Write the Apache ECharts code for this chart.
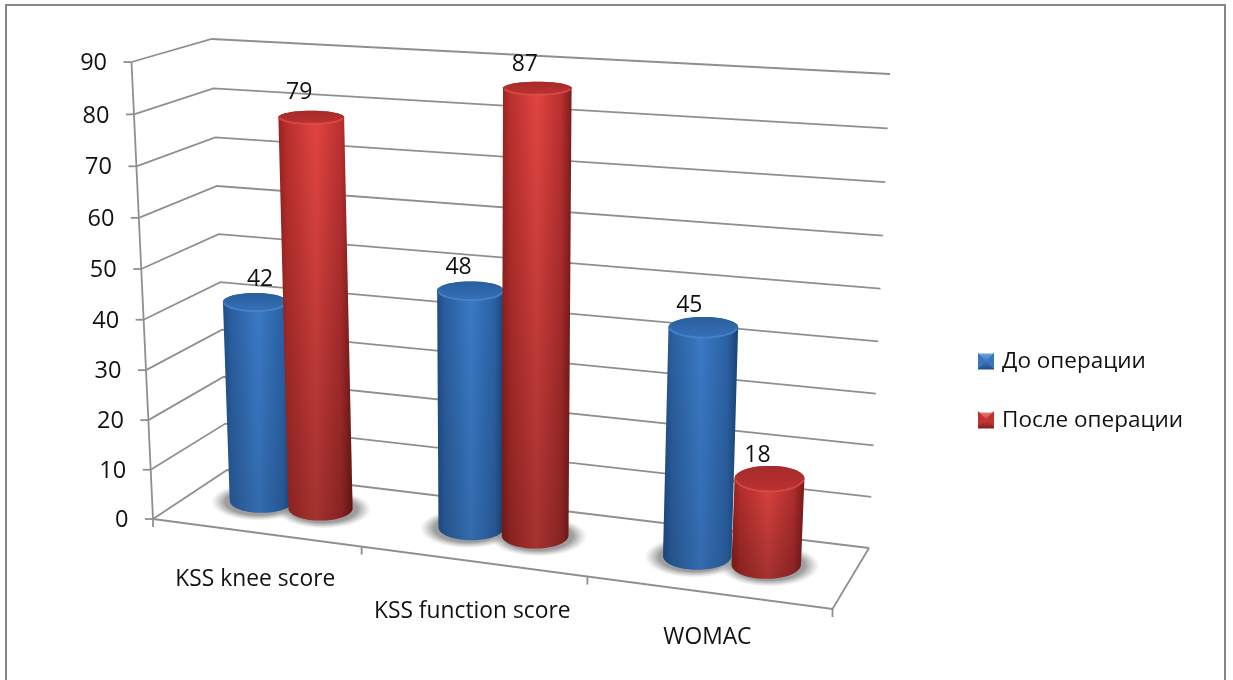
<!DOCTYPE html>
<html>
<head>
<meta charset="utf-8">
<style>html,body{margin:0;padding:0;background:#fff}#chart{width:1233px;height:680px}</style>
<script src="https://cdn.jsdelivr.net/npm/echarts@6/dist/echarts.min.js"></script>
</head>
<body>
<div id="chart"></div>
<script>
// Scores before and after surgery
const categories = ['KSS knee score', 'KSS function score', 'WOMAC'];
const seriesNames = ['До операции', 'После операции'];
const beforeSurgery = [42, 48, 45];
const afterSurgery = [79, 87, 18];
const valueTicks = [0, 10, 20, 30, 40, 50, 60, 70, 80, 90];

const FONT = '"Open Sans", sans-serif';
const LINE = '#8f8f8f';
const TEXT = '#111';

// Corners of the 3D plot box on screen: [front-left, front-right, back-right, back-left]
const FLOOR = [[153, 519], [832.5, 609], [869, 548], [227, 470]];
const CEILING = [[131.5, 62], [856, 103], [890, 74], [211.7, 39]];
const HEIGHT_PERSPECTIVE = 1.035;
const BAR_DEPTH = 0.53, BAR_OFFSET = 0.0485, RADIUS_S = 0.05, RADIUS_D = 0.24;
const WIDTH_BLEND = 16.7;
const CATEGORY_SHIFT = [-0.0035, -0.001, 0];

// Hand placement of the text relative to its mark
const LABEL_DX = [[5, -12, -14], [-12, -12.5, -12]];
const LABEL_DY = [[-13, -14, -11], [-18, -17, -10]];
const CATEGORY_DY = [47, 50, 45];

// Unit square to quadrilateral homography
function squareToQuad(q) {
  const [[x0, y0], [x1, y1], [x2, y2], [x3, y3]] = q;
  const dx1 = x1 - x2, dx2 = x3 - x2, dx3 = x0 - x1 + x2 - x3;
  const dy1 = y1 - y2, dy2 = y3 - y2, dy3 = y0 - y1 + y2 - y3;
  const den = dx1 * dy2 - dx2 * dy1;
  const g = (dx3 * dy2 - dx2 * dy3) / den, h = (dx1 * dy3 - dx3 * dy1) / den;
  const a = x1 - x0 + g * x1, b = x3 - x0 + h * x3, d = y1 - y0 + g * y1, e = y3 - y0 + h * y3;
  return (s, r) => {
    const w = g * s + h * r + 1;
    return [(a * s + b * r + x0) / w, (d * s + e * r + y0) / w];
  };
}
const floorAt = squareToQuad(FLOOR), ceilingAt = squareToQuad(CEILING);

// s: along categories, r: depth, t: fraction of the value axis
function project(s, r, t) {
  const f = t / (t + HEIGHT_PERSPECTIVE * (1 - t));
  const a = floorAt(s, r), b = ceilingAt(s, r);
  return [a[0] + (b[0] - a[0]) * f, a[1] + (b[1] - a[1]) * f];
}

// Converts a position on the hidden cartesian axes into box coordinates
function toBox(api, cat, value) {
  const c = api.coord([cat, value]);
  return { s: c[0] / api.getWidth(), t: 1 - c[1] / api.getHeight() };
}

const line = (pts, z2, width) => ({
  type: 'polyline', z2: z2 || 0, silent: true,
  shape: { points: pts },
  style: { stroke: LINE, lineWidth: width || 1.8, fill: null }
});
const label = (text, x, y, align, size) => ({
  type: 'text', z2: 5, silent: true,
  style: { text, x, y, align: align || 'center', verticalAlign: 'middle', fill: TEXT, font: (size || 23) + 'px ' + FONT }
});

function renderWalls(params, api) {
  const v = api.value(1);
  const { t } = toBox(api, 0, v);
  const front = project(0, 0, t), back = project(0, 1, t), right = project(1, 1, t);
  const kids = [
    line([front, back, right]),
    line([[front[0] - 8, front[1]], front]),
    label(String(v), front[0] - 24.5, front[1] + 1.5, 'right', 23.5)
  ];
  if (v === valueTicks[0]) {
    kids.push(line([project(0, 0, 0), project(1, 0, 0), project(1, 1, 0)]));
    kids.push(line([project(0, 0, 0), project(0, 0, 1)]));
  }
  return { type: 'group', children: kids };
}

function renderCategories(params, api) {
  const i = api.value(0);
  const { s } = toBox(api, i, 0);
  const half = api.size([1, 0])[0] / api.getWidth() / 2;
  const ticks = [s - half];
  if (i === categories.length - 1) ticks.push(s + half);
  const kids = ticks.map(x => {
    const p = project(x, 0, 0);
    return line([p, [p[0], p[1] + 8]]);
  });
  const at = project(s, 0, 0);
  kids.push(label(categories[i], at[0], at[1] + CATEGORY_DY[i], 'center', 22.8));
  return { type: 'group', children: kids };
}

function ellipsePoints(c, a, b, from, to, n) {
  const out = [];
  for (let i = 0; i <= n; i++) {
    const ang = from + (to - from) * i / n;
    out.push([c[0] + a * Math.cos(ang), c[1] + b * Math.sin(ang)]);
  }
  return out;
}

// Screen-space footprint of a cylinder at height t
function footprint(s, t) {
  const c = project(s, BAR_DEPTH, t);
  const raw = Math.abs(project(s + RADIUS_S, BAR_DEPTH, t)[0] - project(s - RADIUS_S, BAR_DEPTH, t)[0]) / 2;
  const b = Math.abs(project(s, BAR_DEPTH - RADIUS_D, t)[1] - project(s, BAR_DEPTH + RADIUS_D, t)[1]) / 2;
  return { c, a: raw * 0.5 + WIDTH_BLEND, b };
}

const grad = (x2, y2, stops) => new echarts.graphic.LinearGradient(0, 0, x2, y2,
  stops.map(([offset, color]) => ({ offset, color })));

const PALETTE = [
  {
    body: [[0, '#1f4c88'], [0.12, '#2a5f9f'], [0.5, '#3a7ac6'], [0.85, '#2b62a6'], [1, '#1a4276']],
    cap: [[0, '#2a5f9e'], [1, '#3570b6']], rim: '#4a8ad2', shade: 0.12
  },
  {
    body: [[0, '#96231f'], [0.12, '#bb2f2d'], [0.5, '#e24541'], [0.85, '#bb3030'], [1, '#7f1c1c']],
    cap: [[0, '#a62a2a'], [1, '#bb3232']], rim: '#e0504c', shade: 0.28
  }
];

function makeBarRenderer(seriesIndex) {
  const sign = seriesIndex === 0 ? -1 : 1, colors = PALETTE[seriesIndex];
  return function (params, api) {
    const i = api.value(0), v = api.value(1);
    const { s, t } = toBox(api, i, v);
    const x = s + CATEGORY_SHIFT[i] + sign * BAR_OFFSET;
    const base = footprint(x, 0), top = footprint(x, t);
    // The rounded rim sits a little below the nominal top of the column
    top.c = [top.c[0], top.c[1] + 9 - 6 * t];
    const outline = ellipsePoints(base.c, base.a, base.b, 0, Math.PI, 24)
      .concat(ellipsePoints(top.c, top.a, top.b, Math.PI, 2 * Math.PI, 24));
    const cap = ellipsePoints(top.c, top.a, top.b, 0, 2 * Math.PI, 48);
    const rim = ellipsePoints(top.c, top.a - 1, top.b, 0.12, Math.PI - 0.12, 24);
    return {
      type: 'group',
      children: [
        { type: 'polygon', silent: true, shape: { points: outline }, style: { fill: grad(1, 0, colors.body) } },
        { type: 'polygon', silent: true, shape: { points: outline },
          style: { fill: grad(0, 1, [[0, 'rgba(0,0,0,0)'], [1, 'rgba(0,0,0,' + colors.shade + ')']]) } },
        { type: 'polygon', silent: true, shape: { points: cap }, style: { fill: grad(0, 1, colors.cap) } },
        { type: 'polyline', silent: true, shape: { points: rim },
          style: { stroke: colors.rim, lineWidth: 2, fill: null, opacity: 0.7 } },
        label(String(v), top.c[0] + LABEL_DX[seriesIndex][i], top.c[1] - top.b + LABEL_DY[seriesIndex][i])
      ]
    };
  };
}

function makeShadowRenderer(seriesIndex) {
  const sign = seriesIndex === 0 ? -1 : 1;
  return function (params, api) {
    const i = api.value(0);
    const { s } = toBox(api, i, 0);
    const base = footprint(s + CATEGORY_SHIFT[i] + sign * BAR_OFFSET, 0);
    const rx = base.a + 16;
    return {
      type: 'circle', silent: true,
      x: base.c[0] + sign * 3, y: base.c[1] + 1, scaleX: 1, scaleY: (base.b + 7) / rx,
      shape: { cx: 0, cy: 0, r: rx },
      style: {
        fill: new echarts.graphic.RadialGradient(0.5, 0.5, 0.5, [
          { offset: 0, color: 'rgba(125,125,125,0.8)' },
          { offset: 0.7, color: 'rgba(125,125,125,0.75)' },
          { offset: 0.85, color: 'rgba(150,150,150,0.4)' },
          { offset: 1, color: 'rgba(190,190,190,0)' }
        ])
      }
    };
  };
}

const asPoints = vals => vals.map((v, i) => [i, v]);
const customSeries = (name, z, data, renderItem) => ({
  name, type: 'custom', coordinateSystem: 'cartesian2d', z, clip: false, silent: true,
  encode: { x: 0, y: 1 }, data, renderItem, animation: false
});
const swatch = (top, bottom) => grad(0, 1, [[0, top], [0.5, bottom[0]], [1, bottom[1]]]);
const bevel = (x, y, color) => [
  { type: 'polygon', z: 30, silent: true, shape: { points: [[x, y], [x + 8, y + 8], [x, y + 16]] }, style: { fill: color } },
  { type: 'polygon', z: 30, silent: true, shape: { points: [[x + 16, y], [x + 8, y + 8], [x + 16, y + 16]] }, style: { fill: color } }
];

const chart = echarts.init(document.getElementById('chart'), null, { renderer: 'canvas' });
chart.setOption({
  backgroundColor: '#fff',
  animation: false,
  grid: { left: 0, right: 0, top: 0, bottom: 0 },
  xAxis: { type: 'category', data: categories, show: false },
  yAxis: { type: 'value', min: 0, max: 90, interval: 10, show: false },
  legend: {
    orient: 'vertical', left: 978, top: 350, itemWidth: 16, itemHeight: 16, itemGap: 36, selectedMode: false,
    textStyle: { fontFamily: FONT, fontSize: 22.5, color: TEXT, lineHeight: 22, padding: [0, 0, 0, 3] },
    padding: 0,
    data: [
      { name: seriesNames[0], icon: 'rect', itemStyle: { color: swatch('#6aa3e0', ['#3a78c0', '#1f4c88']) } },
      { name: seriesNames[1], icon: 'rect', itemStyle: { color: swatch('#e87a76', ['#c83c38', '#7f1c1c']) } }
    ]
  },
  graphic: [
    { type: 'rect', z: -1, silent: true, shape: { x: 6, y: 5, width: 1219, height: 720 },
      style: { fill: '#fff', stroke: '#868686', lineWidth: 2 } },
    ...bevel(978, 353, '#3a76bc'),
    ...bevel(978, 411, '#bf3431')
  ],
  series: [
    customSeries('walls', 1, valueTicks.map(v => [0, v]), renderWalls),
    customSeries('axis', 1, categories.map((c, i) => [i, 0]), renderCategories),
    customSeries('shadowA', 2, asPoints(beforeSurgery), makeShadowRenderer(0)),
    customSeries('shadowB', 2, asPoints(afterSurgery), makeShadowRenderer(1)),
    customSeries(seriesNames[0], 3, asPoints(beforeSurgery), makeBarRenderer(0)),
    customSeries(seriesNames[1], 4, asPoints(afterSurgery), makeBarRenderer(1))
  ]
});
</script>
</body>
</html>
